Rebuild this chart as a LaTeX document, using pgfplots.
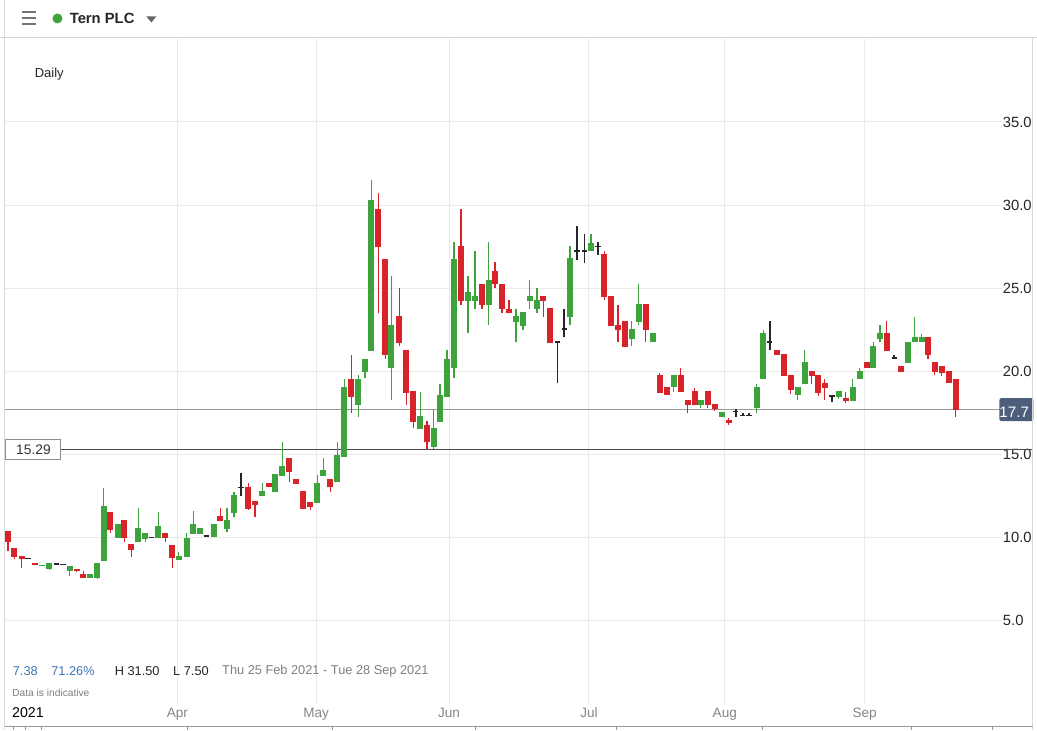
\documentclass[border=0pt]{standalone}
\usepackage{fontspec}
\setmainfont{Liberation Sans}
\usepackage{pgfplots}
\pgfplotsset{compat=1.18}
\usepackage{pgfplotstable}

\definecolor{upgreen}{RGB}{61,163,61}
\definecolor{downred}{RGB}{216,35,42}
\definecolor{gridc}{RGB}{234,234,234}
\definecolor{slate}{RGB}{76,94,124}
\definecolor{linkblue}{RGB}{60,120,180}

% x = candle centre in screen px, prices in pence
\pgfplotstableread{
x o h l c
42 8.30 8.33 8.30 8.36
48.7 8.11 8.46 8.05 8.46
69.2 8.01 8.29 7.71 8.29
89.8 7.59 7.81 7.59 7.81
96.8 7.59 8.47 7.51 8.47
103.5 8.61 12.98 8.61 11.92
117.2 9.99 10.82 9.99 10.82
137.8 9.75 11.78 9.75 10.58
144.8 9.92 10.28 9.75 10.28
158 9.99 11.54 9.99 10.70
178.5 8.65 9.12 8.65 8.91
186.2 8.85 10.26 8.85 9.99
192.8 10.23 11.60 10.23 10.80
199.8 10.23 10.56 10.23 10.56
213.3 10.05 10.80 10.05 10.80
226.8 10.50 11.76 10.32 11.06
233.8 11.50 12.74 11.26 12.56
262 12.52 13.26 12.52 12.80
275 12.76 13.82 12.76 13.82
282 13.72 15.73 13.72 14.30
317 12.10 13.76 12.10 13.30
323.3 13.72 14.78 13.72 14.06
337 13.32 15.73 13.32 14.96
344.2 14.86 19.51 14.86 19.07
358 17.97 19.77 17.27 19.51
364.8 19.97 20.77 19.57 20.77
371 21.23 31.49 21.23 30.29
391 20.21 25.72 18.27 22.78
420 16.51 18.77 16.51 17.31
433.5 15.46 17.73 15.32 16.57
440 16.97 19.23 16.97 18.57
447 18.47 21.27 18.47 20.77
454 20.21 27.78 19.57 26.78
468 24.24 25.72 22.28 24.76
475 24.24 27.22 23.74 24.52
488.5 23.98 27.78 22.78 25.52
516 22.97 23.74 21.77 23.32
523 22.73 23.56 22.48 23.56
529.8 24.24 25.48 23.74 24.52
537 23.74 25.02 23.52 24.28
570 23.24 27.52 22.78 26.82
591 27.24 28.25 27.24 27.74
632 21.95 23.02 21.51 22.52
639 22.94 25.24 22.78 24.04
653.5 21.74 22.28 21.74 22.28
674 19.03 19.77 18.77 19.77
701 17.97 18.27 17.77 18.27
722 17.27 17.57 17.27 17.57
757 17.77 19.23 17.51 19.03
763.5 19.51 22.48 19.51 22.28
798 18.57 19.07 18.27 19.07
805 19.23 21.27 19.23 20.57
839 18.47 18.81 18.31 18.81
853 18.23 19.53 18.23 19.03
860 19.51 20.23 19.51 20.01
873.7 20.23 21.77 20.23 21.51
880.3 21.97 22.78 21.77 22.31
908 20.51 21.77 20.51 21.77
915 21.75 23.28 21.75 22.04
922 21.75 22.24 21.75 22.04
}\upc

\pgfplotstableread{
x o h l c
7.5 10.40 10.40 9.21 9.75
13.8 9.38 9.38 8.71 8.82
21.2 8.89 8.89 8.19 8.69
34.8 8.45 8.45 8.37 8.37
76.3 8.11 8.11 7.93 8.01
82.8 7.81 7.99 7.59 7.59
110 11.54 11.54 10.29 10.46
123.8 11.06 11.06 9.75 9.96
131 9.62 9.62 8.85 9.25
165 10.28 10.28 9.75 9.99
171.8 9.54 9.54 8.19 8.76
220 11.30 11.78 11.02 11.02
248 13.04 13.26 11.66 11.72
254.8 12.22 12.22 11.26 11.98
268.3 13.30 13.30 13.02 13.02
289 14.78 14.78 13.32 13.96
296 13.52 13.52 13.24 13.24
303 12.80 12.80 11.74 11.74
310 12.16 12.16 11.66 11.86
330 13.52 13.52 12.76 13.02
351.2 19.51 20.97 17.51 18.47
378.3 29.79 30.75 23.48 27.48
385 26.78 26.78 20.77 20.97
399 23.32 25.02 21.53 21.68
406 21.27 21.27 17.97 18.71
413 18.83 18.83 16.57 16.97
427 16.77 17.03 15.32 15.76
461 27.52 29.75 24.02 24.24
482 25.28 25.28 23.74 23.98
495 26.02 26.58 25.02 25.28
502 25.28 25.28 23.52 23.78
509 23.78 24.28 23.48 23.48
543.3 24.52 24.52 23.28 24.24
550.3 23.82 23.82 21.71 21.71
604.5 27.08 27.22 24.32 24.48
611.3 24.52 24.52 22.73 22.73
618 22.78 23.98 21.77 22.48
625 23.02 23.02 21.47 21.47
646 24.04 24.04 21.77 22.48
660 19.77 19.91 18.71 18.71
667 19.03 19.03 18.59 18.59
681 19.77 20.23 18.73 18.73
688 18.27 18.27 17.51 17.97
695 18.81 19.01 17.97 17.97
708 18.81 18.81 17.77 17.97
715 18.01 18.01 17.63 17.75
729 17.07 17.17 16.77 16.87
777 21.27 21.27 20.97 20.97
784 21.03 21.03 19.73 19.73
791 19.77 19.77 18.63 18.87
812 20.01 20.01 19.23 19.73
818.7 19.77 19.77 18.51 18.71
825 19.31 19.51 18.27 19.01
846 18.41 18.77 18.07 18.23
867 20.57 20.57 20.23 20.23
887 22.31 23.02 21.23 21.23
901 20.33 20.33 19.97 19.97
928.3 22.04 22.04 20.77 21.01
935 20.57 20.57 19.77 19.97
942 20.31 20.31 19.73 19.93
949 20.01 20.01 19.27 19.27
956 19.53 19.53 17.27 17.67
}\downc

\pgfplotstableread{
x o h l
27.5 8.75 8.77 8.73
55.8 8.41 8.43 8.39
62.5 8.39 8.41 8.37
151.3 10.00 10.02 9.98
206.5 10.10 10.12 10.08
240.7 13.00 13.88 12.52
557.5 21.77 21.77 19.27
564.2 22.54 23.74 22.04
577 27.24 28.73 26.72
584.5 27.24 28.25 26.52
598 27.52 27.78 27.02
736 17.57 17.71 17.27
743 17.33 17.51 17.33
749.3 17.33 17.51 17.33
770 21.77 23.02 21.27
832.3 18.53 18.53 18.17
894.5 20.81 20.97 20.81
}\dojic

\begin{document}
\begin{tikzpicture}
\begin{scope}[x=0.5pt,y=-0.5pt]
\useasboundingbox[fill=white] (0,0) rectangle (1037,730);
\end{scope}

\begin{axis}[
  at={(2.5pt,-352pt)}, anchor=south west,
  scale only axis, width=498.5pt, height=332.8pt,
  xmin=5, xmax=1002, ymin=0, ymax=40,
  clip=false,
  axis line style={draw=none},
  major tick length=0pt,
  grid=major, grid style={color=gridc, line width=0.5pt},
  ytick={5,10,...,35},
  yticklabel pos=right,
  yticklabel style={anchor=west, inner sep=0pt, xshift=0.5pt,
    font=\fontsize{7.4}{8}\selectfont, text=black!85,
    /pgf/number format/.cd, fixed, fixed zerofill, precision=1, assume math mode=true},
  xtick={177,316,449,589,725,865},
  xticklabels={Apr,May,Jun,Jul,Aug,Sep},
  xticklabel style={anchor=base, inner sep=0pt, yshift=-7pt,
    font=\fontsize{6.8}{8}\selectfont, text=black!48},
  extra x ticks={27.5},
  extra x tick labels={2021},
  extra x tick style={grid=none, xticklabel style={text=black, font=\fontsize{7.1}{8}\selectfont}},
  candle/.style={draw=none, mark=none, forget plot},
]
% reference lines
\addplot[color=black!40, line width=0.5pt] coordinates {(5,17.7) (1000,17.7)};
\addplot[color=black!70, line width=0.6pt] coordinates {(60,15.29) (1033,15.29)};

% wicks
\addplot[candle, error bars/.cd, y dir=plus, y explicit, error mark=none,
  error bar style={draw=upgreen, line width=0.6pt}]
  table[x=x, y=l, y error plus expr={\thisrow{h}-\thisrow{l}}] {\upc};
\addplot[candle, error bars/.cd, y dir=plus, y explicit, error mark=none,
  error bar style={draw=downred, line width=0.6pt}]
  table[x=x, y=l, y error plus expr={\thisrow{h}-\thisrow{l}}] {\downc};
\addplot[candle, error bars/.cd, y dir=plus, y explicit, error mark=none,
  error bar style={draw=black!85, line width=0.75pt}]
  table[x=x, y=l, y error plus expr={\thisrow{h}-\thisrow{l}+0.001}] {\dojic};

% bodies
\addplot[candle, error bars/.cd, y dir=both, y explicit, error mark=none,
  error bar style={draw=upgreen, line width=3pt}]
  table[x=x, y expr={(\thisrow{o}+\thisrow{c})/2}, y error expr={abs(\thisrow{c}-\thisrow{o})/2}] {\upc};
\addplot[candle, error bars/.cd, y dir=both, y explicit, error mark=none,
  error bar style={draw=downred, line width=3pt}]
  table[x=x, y expr={(\thisrow{o}+\thisrow{c})/2}, y error expr={abs(\thisrow{c}-\thisrow{o})/2}] {\downc};
\addplot[only marks, forget plot, mark=-, mark size=1.3pt, color=black!85, mark options={line width=0.75pt}]
  table[x=x, y=o] {\dojic};

\node[fill=slate, text=white, anchor=west, inner sep=0pt, minimum height=11.5pt, text width=17pt,
  rounded corners=1pt, font=\fontsize{7.6}{8}\selectfont, align=left] at (axis cs:999.5,17.7) {\hspace{3pt}17.7};
\node[draw=black!45, fill=white, line width=0.5pt, anchor=west, inner sep=0pt, minimum height=10pt, minimum width=27.5pt,
  font=\fontsize{6.9}{8}\selectfont, text=black!80] at (axis cs:5,15.29) {15.29};
\end{axis}

\begin{scope}[x=0.5pt,y=-0.5pt]
% frame and header
\draw[black!18, line width=0.5pt] (0,37.5) -- (1037,37.5);
\draw[black!15, line width=0.5pt] (4.5,0) -- (4.5,730);
\draw[black!15, line width=0.5pt] (1033,37.5) -- (1033,730);
\foreach \yy in {12,18,24} \draw[black!55, line width=1pt] (22,\yy) -- (36,\yy);
\fill[upgreen] (57,18) circle (5);
\node[anchor=west, inner sep=0pt, font=\bfseries\fontsize{7.4}{8}\selectfont, text=black!85] at (69,18) {Tern PLC};
\fill[black!60] (146,16) -- (156,16) -- (151,22) -- cycle;
\node[anchor=west, inner sep=0pt, font=\fontsize{6.5}{8}\selectfont, text=black!85] at (34,74) {Daily};
% footer
\node[anchor=west, inner sep=0pt, font=\fontsize{6.4}{8}\selectfont, text=linkblue] at (12,671) {7.38};
\node[anchor=west, inner sep=0pt, font=\fontsize{6.4}{8}\selectfont, text=linkblue] at (50.5,671) {71.26\%};
\node[anchor=west, inner sep=0pt, font=\fontsize{6.4}{8}\selectfont, text=black!85] at (114,671) {H 31.50};
\node[anchor=west, inner sep=0pt, font=\fontsize{6.4}{8}\selectfont, text=black!85] at (172.5,671) {L 7.50};
\node[anchor=west, inner sep=0pt, font=\fontsize{6.4}{8}\selectfont, text=black!50] at (221.5,671) {Thu 25 Feb 2021 - Tue 28 Sep 2021};
\node[anchor=west, inner sep=0pt, font=\fontsize{5.1}{6}\selectfont, text=black!50] at (11.5,693) {Data is indicative};
% range bar
\draw[black!40, line width=0.5pt] (4.5,727) -- (1033,727);
\foreach \xx in {13,25,41,187,332,475,617,763,912,993} \draw[black!40, line width=0.5pt] (\xx,727) -- (\xx,730);
\end{scope}
\end{tikzpicture}
\end{document}
